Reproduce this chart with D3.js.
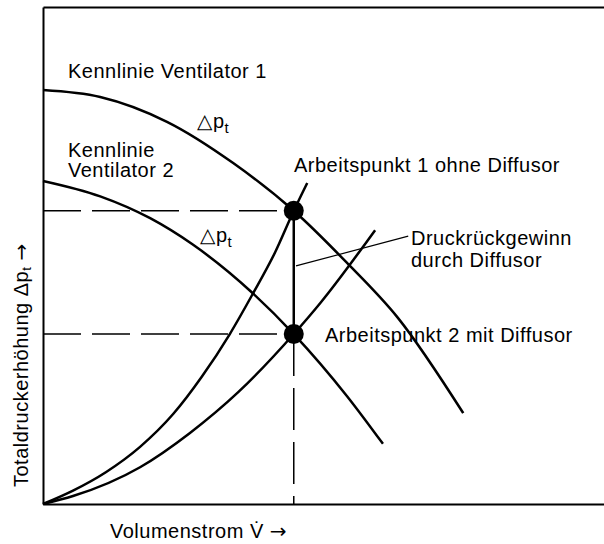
<!DOCTYPE html>
<html>
<head>
<meta charset="utf-8">
<script src="https://cdn.jsdelivr.net/npm/d3@7"></script>
<style>
  body { margin: 0; background: #fff; }
  text { font-family: "Liberation Sans", Arial, Helvetica, sans-serif; font-size: 20px; letter-spacing: 0.5px; fill: #000; }
  .arrow { font-family: "DejaVu Sans"; letter-spacing: 0; }
</style>
</head>
<body>
<svg id="chart" width="604" height="544"></svg>
<script>
// values, Volumenstrom V (0..100) vs Totaldruckerhöhung dp (0..100)
var fan1V = [0, 10.2, 22.1, 33.9, 44.7, 54.2, 63.3, 74.9];
var fan1P = [83.3, 81.9, 76.9, 68.6, 59.0, 48.5, 37.4, 18.3];

var fan2V = [0, 10.2, 19.1, 26.7, 37.4, 44.7, 54.2, 60.6];
var fan2P = [65.0, 61.9, 57.5, 52.2, 42.4, 34.2, 21.7, 12.1];

// Anlagenkennlinie ohne Diffusor (steiler) und mit Diffusor
var sys1V = [0, 5.35, 11.2, 17.3, 23.2, 28.3, 33.3, 37.4, 41.4, 44.7, 47.1];
var sys1P = [0, 2.7, 6.4, 11.5, 18.1, 25.6, 34.2, 42.3, 50.7, 59.0, 64.6];

var sys2V = [0, 5.35, 17.3, 26.2, 34.8, 44.7, 49.4, 59.2];
var sys2P = [0, 1.6, 7.4, 14.3, 22.5, 34.2, 40.4, 55.1];

// Arbeitspunkte
var opV = [44.7, 44.7];
var opP = [59.0, 34.2];
var opLabels = ["Arbeitspunkt 1 ohne Diffusor", "Arbeitspunkt 2 mit Diffusor"];

// Hinweislinie Druckrückgewinn
var leaderV = [45.1, 65.1];
var leaderP = [47.9, 53.9];

var svg = d3.select("#chart");

var x = d3.scaleLinear().domain([0, 100]).range([43, 604]);
var y = d3.scaleLinear().domain([0, 100]).range([504, 7]);

function pts(vs, ps){
    return vs.map(function(v, i){ return [v, ps[i]]; });
}

var line = d3.line()
    .x(function(d){ return x(d[0]); })
    .y(function(d){ return y(d[1]); })
    .curve(d3.curveMonotoneX);

// frame: left, bottom and top lines, no ticks
svg.append("g")
    .attr("transform", "translate(0,504)")
    .call(d3.axisBottom(x).tickValues([]).tickSizeOuter(0))
    .select(".domain").attr("stroke-width", 2);
svg.append("g")
    .attr("transform", "translate(43,0)")
    .call(d3.axisLeft(y).tickValues([]).tickSizeOuter(0))
    .select(".domain").attr("stroke-width", 2);
svg.append("g")
    .attr("transform", "translate(0,7)")
    .call(d3.axisTop(x).tickValues([]).tickSizeOuter(0))
    .select(".domain").attr("stroke-width", 2);

// dashed guides to the axes
opP.forEach(function(p, i){
    svg.append("line")
        .attr("x1", x(0)).attr("y1", y(p))
        .attr("x2", x(opV[i])).attr("y2", y(p))
        .attr("stroke", "#000").attr("stroke-width", 1.5)
        .attr("stroke-dasharray", "38,11");
});
svg.append("line")
    .attr("x1", x(opV[1])).attr("y1", y(opP[1]))
    .attr("x2", x(opV[1])).attr("y2", y(0))
    .attr("stroke", "#000").attr("stroke-width", 1.5)
    .attr("stroke-dasharray", "42,12");

// curves
[[sys1V, sys1P], [sys2V, sys2P], [fan1V, fan1P], [fan2V, fan2P]].forEach(function(c){
    svg.append("path")
        .datum(pts(c[0], c[1]))
        .attr("d", line)
        .attr("fill", "none")
        .attr("stroke", "#000")
        .attr("stroke-width", 2.5);
});

// Druckrückgewinn
svg.append("line")
    .attr("x1", x(opV[0])).attr("y1", y(opP[0]))
    .attr("x2", x(opV[1])).attr("y2", y(opP[1]))
    .attr("stroke", "#000").attr("stroke-width", 2.5);
svg.append("line")
    .attr("x1", x(leaderV[0])).attr("y1", y(leaderP[0]))
    .attr("x2", x(leaderV[1])).attr("y2", y(leaderP[1]))
    .attr("stroke", "#000").attr("stroke-width", 1.2);

svg.selectAll("circle.op")
    .data(opV)
    .enter().append("circle")
    .attr("class", "op")
    .attr("cx", function(d){ return x(d); })
    .attr("cy", function(d, i){ return y(opP[i]); })
    .attr("r", 10)
    .attr("fill", "#000");

// texts
function dpLabel(tx, ty){
    var t = svg.append("text").attr("x", tx).attr("y", ty);
    t.append("tspan").attr("font-family", "DejaVu Sans").style("font-size", "20px").text("△");
    t.append("tspan").text("p");
    t.append("tspan").attr("dy", 5).style("font-size", "15px").text("t");
}

svg.append("text").attr("x", 68).attr("y", 78).text("Kennlinie Ventilator 1");
svg.append("text").attr("x", 68).attr("y", 157).text("Kennlinie");
svg.append("text").attr("x", 68).attr("y", 177).text("Ventilator 2");
dpLabel(197, 128);
dpLabel(200, 242);

svg.append("text").attr("x", 294).attr("y", 172).text(opLabels[0]);
svg.append("text").attr("x", 325).attr("y", 342).text(opLabels[1]);
svg.append("text").attr("x", 411).attr("y", 245).text("Druckrückgewinn");
svg.append("text").attr("x", 411).attr("y", 267).text("durch Diffusor");

// axis titles
var xl = svg.append("text").attr("x", 110).attr("y", 538);
xl.append("tspan").text("Volumenstrom V\u0307 ");
xl.append("tspan").attr("class", "arrow").text("\u2192");

var yl = svg.append("text").attr("transform", "translate(28,487) rotate(-90)");
yl.append("tspan").text("Totaldruckerhöhung \u0394p");
yl.append("tspan").attr("dy", 3).style("font-size", "13px").text("t");
yl.append("tspan").attr("dy", -3).text(" ");
yl.append("tspan").attr("class", "arrow").text("\u2192");
</script>
</body>
</html>
